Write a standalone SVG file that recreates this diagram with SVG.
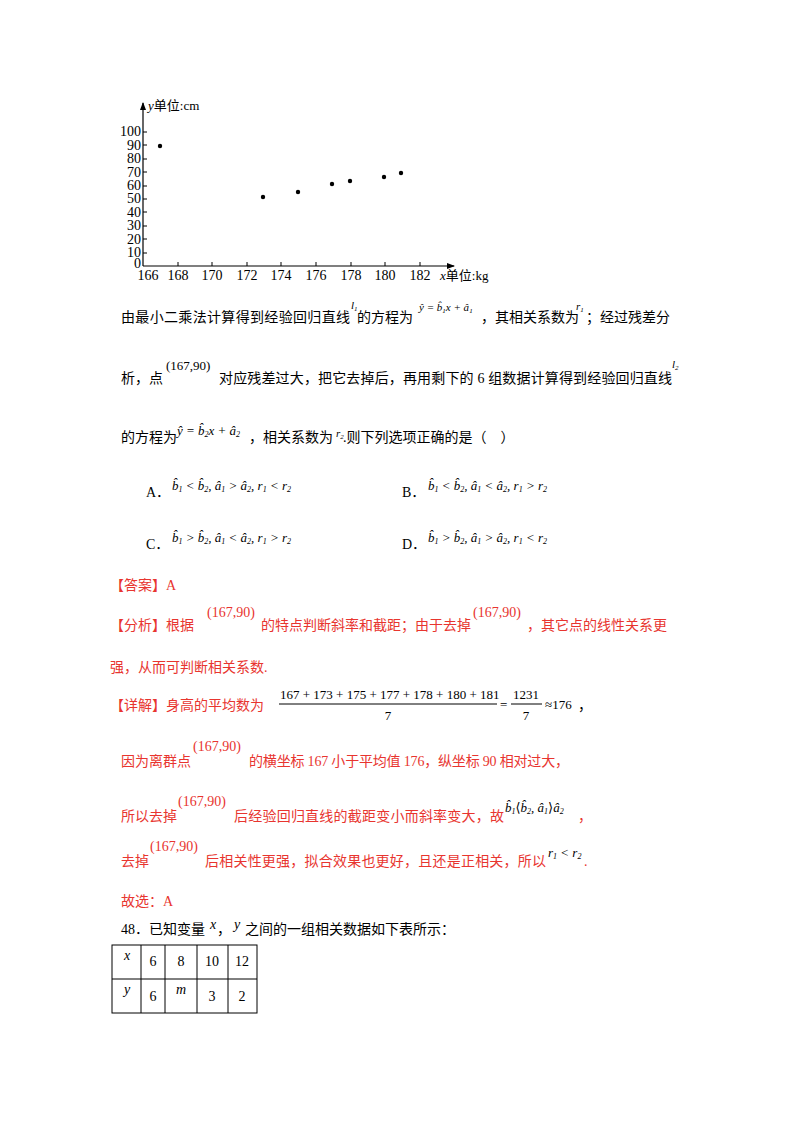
<svg xmlns="http://www.w3.org/2000/svg" width="800" height="1132" viewBox="0 0 800 1132">
<style>
text{font-family:"Liberation Serif","Noto Sans CJK SC",serif;font-size:14px;fill:#000}
.r{fill:#e8352f}
.i{font-style:italic}
.s{font-size:11px}
.m{font-size:13px;font-style:italic}
.t{font-size:13px}
.ax{stroke:#000;stroke-width:1.2;fill:none}
</style>
<defs><marker id="ar" markerWidth="8" markerHeight="8" refX="7" refY="4" orient="auto" markerUnits="userSpaceOnUse"><path d="M0,1 L8,4 L0,7 Z" fill="#000"/></marker></defs>
<rect width="800" height="1132" fill="#fff"/>
<g id="chart">
<line class="ax" x1="143" y1="266" x2="143" y2="103" marker-end="url(#ar)"/>
<line class="ax" x1="143" y1="266" x2="454" y2="266" marker-end="url(#ar)"/>
<g stroke="#000"><line x1="143" y1="132" x2="147" y2="132"/><line x1="143" y1="145" x2="147" y2="145"/><line x1="143" y1="159" x2="147" y2="159"/><line x1="143" y1="172" x2="147" y2="172"/><line x1="143" y1="186" x2="147" y2="186"/><line x1="143" y1="199" x2="147" y2="199"/><line x1="143" y1="212" x2="147" y2="212"/><line x1="143" y1="226" x2="147" y2="226"/><line x1="143" y1="239" x2="147" y2="239"/><line x1="143" y1="253" x2="147" y2="253"/>
<line x1="178" y1="266" x2="178" y2="262"/><line x1="212" y1="266" x2="212" y2="262"/><line x1="247" y1="266" x2="247" y2="262"/><line x1="281" y1="266" x2="281" y2="262"/><line x1="316" y1="266" x2="316" y2="262"/><line x1="351" y1="266" x2="351" y2="262"/><line x1="385" y1="266" x2="385" y2="262"/><line x1="420" y1="266" x2="420" y2="262"/></g>
<g text-anchor="end" class="t"><text x="141" y="136">100</text><text x="141" y="150">90</text><text x="141" y="163">80</text><text x="141" y="177">70</text><text x="141" y="190">60</text><text x="141" y="203">50</text><text x="141" y="217">40</text><text x="141" y="230">30</text><text x="141" y="244">20</text><text x="141" y="257">10</text><text x="141" y="268">0</text></g>
<g text-anchor="middle" class="t"><text x="148" y="280">166</text><text x="178" y="280">168</text><text x="212" y="280">170</text><text x="247" y="280">172</text><text x="281" y="280">174</text><text x="316" y="280">176</text><text x="351" y="280">178</text><text x="385" y="280">180</text><text x="420" y="280">182</text></g>
<text x="148" y="110" class="t"><tspan class="i">y</tspan>单位:cm</text>
<text x="440" y="280" class="t"><tspan class="i">x</tspan>单位:kg</text>
<g fill="#000"><circle cx="160" cy="146" r="2.2"/><circle cx="263" cy="197" r="2.2"/><circle cx="298" cy="192" r="2.2"/><circle cx="332" cy="184" r="2.2"/><circle cx="350" cy="181" r="2.2"/><circle cx="384" cy="177" r="2.2"/><circle cx="401" cy="173" r="2.2"/></g>
</g>
<g id="question">
<text x="121" y="322" textLength="229">由最小二乘法计算得到经验回归直线</text>
<text x="351" y="309" class="s i">l<tspan font-size="7" dy="2">1</tspan></text>
<text x="357" y="322">的方程为</text>
<text x="419" y="311" class="s i">ŷ = b̂<tspan font-size="7" dy="2">1</tspan><tspan dy="-2">x + â</tspan><tspan font-size="7" dy="2">1</tspan></text>
<text x="481" y="322">，其相关系数为</text>
<text x="576" y="310" class="s i">r<tspan font-size="7" dy="2">1</tspan></text>
<text x="586" y="322">；经过残差分</text>
<text x="121" y="383">析，点</text>
<text x="166" y="370" class="t">(167,90)</text>
<text x="219" y="383" textLength="453">对应残差过大，把它去掉后，再用剩下的 6 组数据计算得到经验回归直线</text>
<text x="672" y="368" class="s i">l<tspan font-size="7" dy="2">2</tspan></text>
<text x="121" y="442">的方程为</text>
<text x="177" y="435" class="m">ŷ = b̂<tspan font-size="8" dy="2">2</tspan><tspan dy="-2">x + â</tspan><tspan font-size="8" dy="2">2</tspan></text>
<text x="249" y="442">，相关系数为</text>
<text x="336" y="437" class="s i">r<tspan font-size="7" dy="2">2</tspan></text>
<text x="343" y="442">.则下列选项正确的是（　）</text>
<text x="146" y="497">A．</text>
<text x="172" y="490" class="m">b̂<tspan font-size="8" dy="2">1</tspan><tspan dy="-2"> &lt; b̂</tspan><tspan font-size="8" dy="2">2</tspan><tspan dy="-2">, â</tspan><tspan font-size="8" dy="2">1</tspan><tspan dy="-2"> &gt; â</tspan><tspan font-size="8" dy="2">2</tspan><tspan dy="-2">, r</tspan><tspan font-size="8" dy="2">1</tspan><tspan dy="-2"> &lt; r</tspan><tspan font-size="8" dy="2">2</tspan></text>
<text x="402" y="497">B．</text>
<text x="428" y="490" class="m">b̂<tspan font-size="8" dy="2">1</tspan><tspan dy="-2"> &lt; b̂</tspan><tspan font-size="8" dy="2">2</tspan><tspan dy="-2">, â</tspan><tspan font-size="8" dy="2">1</tspan><tspan dy="-2"> &lt; â</tspan><tspan font-size="8" dy="2">2</tspan><tspan dy="-2">, r</tspan><tspan font-size="8" dy="2">1</tspan><tspan dy="-2"> &gt; r</tspan><tspan font-size="8" dy="2">2</tspan></text>
<text x="146" y="549">C．</text>
<text x="172" y="542" class="m">b̂<tspan font-size="8" dy="2">1</tspan><tspan dy="-2"> &gt; b̂</tspan><tspan font-size="8" dy="2">2</tspan><tspan dy="-2">, â</tspan><tspan font-size="8" dy="2">1</tspan><tspan dy="-2"> &lt; â</tspan><tspan font-size="8" dy="2">2</tspan><tspan dy="-2">, r</tspan><tspan font-size="8" dy="2">1</tspan><tspan dy="-2"> &gt; r</tspan><tspan font-size="8" dy="2">2</tspan></text>
<text x="402" y="549">D．</text>
<text x="428" y="542" class="m">b̂<tspan font-size="8" dy="2">1</tspan><tspan dy="-2"> &gt; b̂</tspan><tspan font-size="8" dy="2">2</tspan><tspan dy="-2">, â</tspan><tspan font-size="8" dy="2">1</tspan><tspan dy="-2"> &gt; â</tspan><tspan font-size="8" dy="2">2</tspan><tspan dy="-2">, r</tspan><tspan font-size="8" dy="2">1</tspan><tspan dy="-2"> &lt; r</tspan><tspan font-size="8" dy="2">2</tspan></text>
</g>
<g id="answer">
<text x="110" y="590" class="r">【答案】A</text>
<text x="110" y="630" class="r">【分析】根据</text>
<text x="207" y="617" class="r">(167,90)</text>
<text x="261" y="630" class="r">的特点判断斜率和截距；由于去掉</text>
<text x="473" y="617" class="r">(167,90)</text>
<text x="527" y="630" class="r">，其它点的线性关系更</text>
<text x="110" y="672" class="r">强，从而可判断相关系数.</text>
<text x="110" y="710" class="r">【详解】身高的平均数为</text>
<text x="280" y="699" class="t">167 + 173 + 175 + 177 + 178 + 180 + 181</text>
<line x1="279" y1="704" x2="497" y2="704" stroke="#000"/>
<text x="388" y="720" class="t" text-anchor="middle">7</text>
<text x="500" y="709" class="t">=</text>
<text x="513" y="699" class="t">1231</text>
<line x1="511" y1="704" x2="542" y2="704" stroke="#000"/>
<text x="526" y="720" class="t" text-anchor="middle">7</text>
<text x="545" y="709" class="t">≈176</text>
<text x="578" y="710">，</text>
<text x="121" y="766" class="r">因为离群点</text>
<text x="193" y="751" class="r">(167,90)</text>
<text x="249" y="766" class="r" textLength="320">的横坐标 167 小于平均值 176，纵坐标 90 相对过大，</text>
<text x="121" y="821" class="r">所以去掉</text>
<text x="178" y="806" class="r">(167,90)</text>
<text x="234" y="821" class="r" textLength="270">后经验回归直线的截距变小而斜率变大，故</text>
<text x="505" y="812" class="m">b̂<tspan font-size="8" dy="2">1</tspan><tspan dy="-2" font-style="normal" font-family="DejaVu Serif">⟨</tspan><tspan>b̂</tspan><tspan font-size="8" dy="2">2</tspan><tspan dy="-2">, â</tspan><tspan font-size="8" dy="2">1</tspan><tspan dy="-2" font-style="normal" font-family="DejaVu Serif">⟩</tspan><tspan>â</tspan><tspan font-size="8" dy="2">2</tspan></text>
<text x="578" y="821" class="r">，</text>
<text x="121" y="866" class="r">去掉</text>
<text x="150" y="851" class="r">(167,90)</text>
<text x="205" y="866" class="r" textLength="341">后相关性更强，拟合效果也更好，且还是正相关，所以</text>
<text x="548" y="857" class="m">r<tspan font-size="8" dy="2">1</tspan><tspan dy="-2"> &lt; r</tspan><tspan font-size="8" dy="2">2</tspan></text>
<text x="584" y="866" class="r">.</text>
<text x="121" y="906" class="r">故选：A</text>
</g>
<g id="q48">
<text x="121" y="934">48．已知变量</text>
<text x="210" y="929" class="i">x</text>
<text x="217" y="934">，</text>
<text x="234" y="929" class="i">y</text>
<text x="245" y="934">之间的一组相关数据如下表所示：</text>
<g stroke="#000" fill="none"><rect x="112" y="945" width="145" height="68"/><line x1="112" y1="979" x2="257" y2="979"/><line x1="141" y1="945" x2="141" y2="1013"/><line x1="165" y1="945" x2="165" y2="1013"/><line x1="197" y1="945" x2="197" y2="1013"/><line x1="228" y1="945" x2="228" y2="1013"/></g>
<text x="124" y="960" class="i">x</text><text x="153" y="966" text-anchor="middle">6</text><text x="181" y="966" text-anchor="middle">8</text><text x="212" y="966" text-anchor="middle">10</text><text x="242" y="966" text-anchor="middle">12</text>
<text x="124" y="994" class="i">y</text><text x="153" y="1001" text-anchor="middle">6</text><text x="176" y="994" class="i">m</text><text x="212" y="1001" text-anchor="middle">3</text><text x="242" y="1001" text-anchor="middle">2</text>
</g>
</svg>
